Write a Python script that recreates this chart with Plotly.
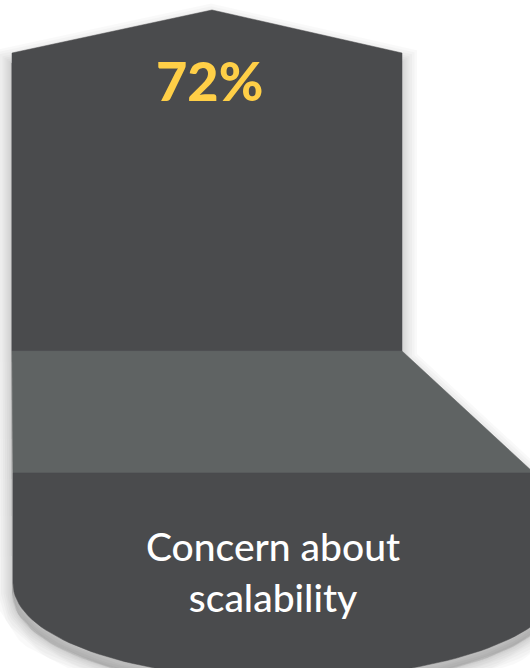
import numpy as np
import plotly.graph_objects as go

# ---- data ----
values = [72]
labels = ["Concern about<br>scalability"]
value_suffix = "%"

# ---- colours ----
DARK = "#4A4B4D"
BAND = "#5F6363"
YELLOW = "#FFCF47"
WHITE = "#FFFFFF"

W, H = 530, 668


def bez(p0, p1, p2, p3, n=40):
    t = np.linspace(0, 1, n)[:, None]
    p0, p1, p2, p3 = map(np.array, (p0, p1, p2, p3))
    pts = ((1 - t) ** 3) * p0 + 3 * ((1 - t) ** 2) * t * p1 + 3 * (1 - t) * t ** 2 * p2 + t ** 3 * p3
    return pts[:, 0].tolist(), pts[:, 1].tolist()


# geometry of the infographic shape
top_x = [12, 12, 212, 402, 402, 12]
top_y = [351, 53, 10, 53, 351, 351]

band_x = [12, 402, 534, 13, 12]
band_y = [351, 351, 473, 473, 351]

rx, ry = bez((560, 583), (560, 640), (430, 678), (285, 679))
lx, ly = bez((285, 679), (140, 680), (13, 640), (13, 583))
bot_x = [13, 560] + rx + lx[1:] + [13]
bot_y = [473, 473] + ry + ly[1:] + [473]

fig = go.Figure()

# soft shadow (offset downward so the top edges stay crisp)
outline_x = [12, 12, 212, 402, 402, 534, 560] + rx + lx[1:] + [12]
outline_y = [351, 53, 10, 53, 351, 473, 473] + ry + ly[1:] + [351]
for w in [32, 27, 22, 17, 13, 9, 5, 2]:
    a = 0.022
    fig.add_trace(go.Scatter(
        x=[v - 1 for v in outline_x], y=[v + 10 for v in outline_y],
        mode="lines", fill="toself", fillcolor=f"rgba(0,0,0,{a})",
        line=dict(color=f"rgba(0,0,0,{a})", width=w),
        hoverinfo="skip", showlegend=False))

for xs, ys, col in [(top_x, top_y, DARK), (band_x, band_y, BAND), (bot_x, bot_y, DARK)]:
    fig.add_trace(go.Scatter(
        x=xs, y=ys, mode="lines", fill="toself", fillcolor=col,
        line=dict(color=col, width=0.5), hoverinfo="skip", showlegend=False))

fig.add_annotation(x=209, y=80, text=f"{values[0]}{value_suffix}", showarrow=False,
                   xanchor="center", yanchor="middle",
                   font=dict(family="Lato", size=54, color=YELLOW, weight=900))
fig.add_annotation(x=273, y=571, text=labels[0], showarrow=False,
                   xanchor="center", yanchor="middle",
                   font=dict(family="Lato", size=39, color=WHITE, weight=500))

fig.update_layout(
    width=W, height=H, margin=dict(l=0, r=0, t=0, b=0),
    paper_bgcolor="white", plot_bgcolor="white",
    xaxis=dict(range=[0, W], visible=False, fixedrange=True),
    yaxis=dict(range=[H, 0], visible=False, fixedrange=True),
    hovermode=False,
)

fig.write_html("out.html", config={"displayModeBar": False})
